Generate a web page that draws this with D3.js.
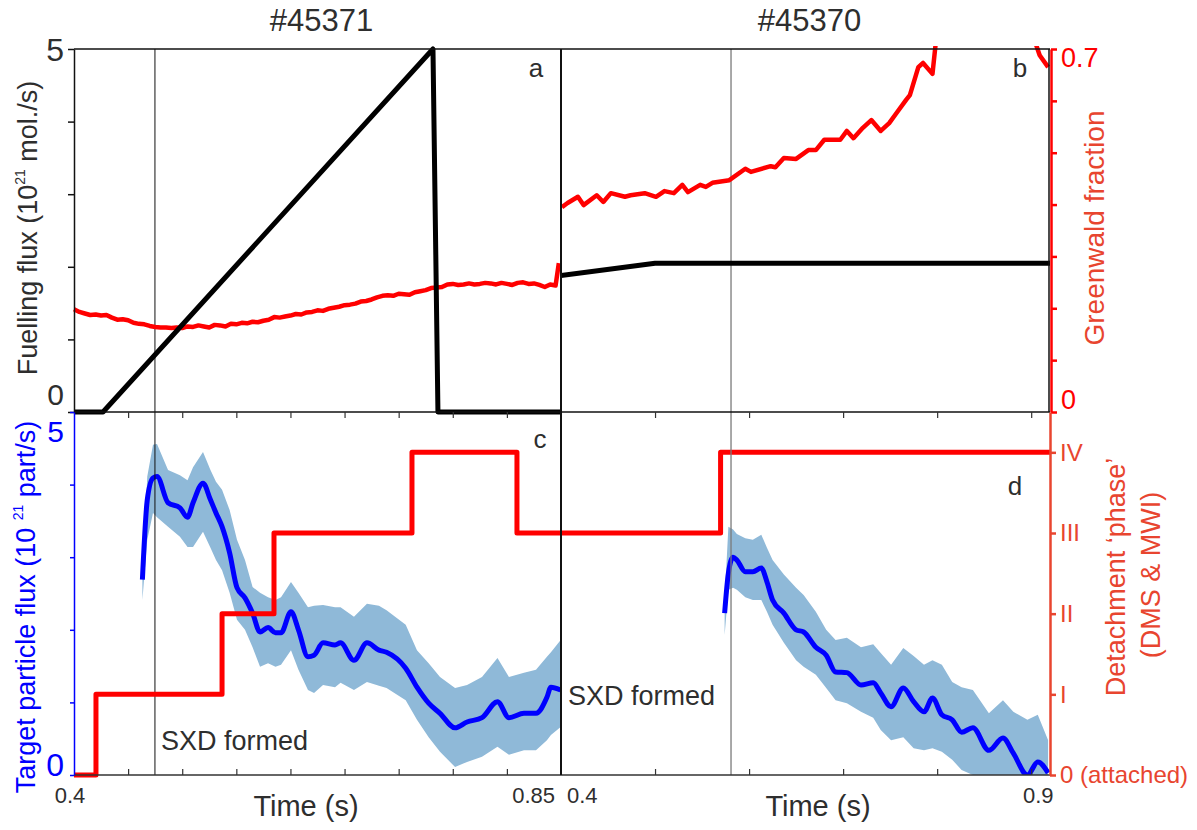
<!DOCTYPE html>
<html><head><meta charset="utf-8">
<script src="https://cdn.jsdelivr.net/npm/d3@7"></script>
<style>body{margin:0;background:#fff}svg{display:block}text{font-family:"Liberation Sans",Arial,Helvetica,sans-serif}</style>
</head><body><svg id="c" width="1197" height="830"></svg>
<script>
// ---------------- DATA ----------------
const shotTitles = ["#45371", "#45370"];
const panelLetters = ["a", "b", "c", "d"];
const phaseLabels = ["0 (attached)", "I", "II", "III", "IV"];
const sxdTimes = [0.4748, 0.5808];          // SXD formed (left shot, right shot)

// fuelling flux (1e21 mol/s)
const fuelA_t = [0.400, 0.4268, 0.7317, 0.7363, 0.850];
const fuelA_v = [0, 0, 5, 0, 0];
const fuelB_t = [0.400, 0.500, 0.920];
const fuelB_v = [1.88, 2.05, 2.05];

// Greenwald fraction
const gwA_t = [0.400,0.405,0.410,0.415,0.420,0.425,0.430,0.435,0.440,0.445,0.450,0.455,0.460,0.465,0.470,0.475,0.480,0.485,0.490,0.495,0.500,0.505,0.510,0.515,0.520,0.525,0.530,0.535,0.540,0.545,0.550,0.555,0.560,0.565,0.570,0.575,0.580,0.585,0.590,0.595,0.600,0.605,0.610,0.615,0.620,0.625,0.630,0.635,0.640,0.645,0.650,0.655,0.660,0.665,0.670,0.675,0.680,0.685,0.690,0.695,0.700,0.705,0.710,0.715,0.720,0.725,0.730,0.735,0.740,0.745,0.750,0.755,0.760,0.765,0.770,0.775,0.780,0.785,0.790,0.795,0.800,0.805,0.810,0.815,0.820,0.825,0.830,0.835,0.840,0.845,0.848];
const gwA_v = [0.198,0.193,0.190,0.187,0.188,0.186,0.187,0.182,0.178,0.179,0.177,0.172,0.170,0.169,0.166,0.164,0.163,0.163,0.162,0.163,0.162,0.165,0.164,0.167,0.165,0.163,0.168,0.167,0.165,0.170,0.169,0.172,0.171,0.174,0.173,0.176,0.178,0.183,0.182,0.184,0.186,0.189,0.188,0.192,0.193,0.196,0.195,0.199,0.201,0.203,0.206,0.207,0.209,0.213,0.214,0.217,0.221,0.224,0.225,0.224,0.228,0.227,0.226,0.231,0.233,0.235,0.239,0.240,0.241,0.246,0.247,0.245,0.246,0.248,0.246,0.247,0.249,0.248,0.246,0.249,0.247,0.245,0.249,0.250,0.247,0.248,0.245,0.241,0.246,0.244,0.287];
const gwB_t = [0.401,0.407,0.418,0.424,0.438,0.445,0.453,0.468,0.474,0.489,0.501,0.510,0.520,0.529,0.535,0.548,0.554,0.561,0.579,0.596,0.602,0.623,0.628,0.637,0.650,0.663,0.671,0.680,0.697,0.704,0.711,0.721,0.730,0.740,0.749,0.757,0.767,0.771,0.780,0.785,0.795,0.799];
const gwB_v = [0.395,0.403,0.415,0.399,0.418,0.405,0.422,0.415,0.418,0.422,0.415,0.426,0.422,0.438,0.424,0.438,0.434,0.442,0.447,0.469,0.463,0.474,0.472,0.490,0.488,0.505,0.505,0.525,0.525,0.542,0.528,0.548,0.563,0.542,0.557,0.577,0.602,0.611,0.665,0.673,0.652,0.720];
const gwB2_t = [0.903, 0.909, 0.918];
const gwB2_v = [0.720, 0.688, 0.665];

// target particle flux (1e21 part/s), mean and band
const fluxA_t = [0.4632,0.4677,0.4730,0.4767,0.4869,0.4979,0.5049,0.5100,0.5192,0.5261,0.5312,0.5368,0.5438,0.5506,0.5580,0.5650,0.5719,0.5793,0.5862,0.5913,0.6005,0.6074,0.6162,0.6218,0.6301,0.6412,0.6463,0.6587,0.6707,0.6818,0.6888,0.7065,0.7169,0.7277,0.7382,0.7521,0.7632,0.7770,0.7913,0.8019,0.8158,0.8269,0.8370,0.8407,0.8497];
const fluxA_v = [2.69,3.79,4.09,4.11,3.75,3.68,3.55,3.75,4.02,3.79,3.61,3.42,3.06,2.58,2.44,2.23,1.97,2.03,1.96,1.96,2.25,2.00,1.63,1.65,1.82,1.79,1.82,1.58,1.82,1.72,1.69,1.47,1.21,0.99,0.85,0.65,0.73,0.79,1.01,0.79,0.85,0.85,1.07,1.21,1.17];
const fluxA_hi = [2.71,4.11,4.55,4.56,4.20,4.13,4.06,4.24,4.45,4.20,4.04,3.93,3.65,3.24,2.96,2.59,2.51,2.45,2.41,2.45,2.66,2.51,2.31,2.33,2.34,2.31,2.31,2.18,2.36,2.33,2.27,2.07,1.72,1.54,1.35,1.20,1.24,1.35,1.61,1.35,1.41,1.45,1.63,1.69,1.86];
const fluxA_lo = [2.41,3.24,3.61,3.55,3.42,3.28,3.14,3.14,3.35,3.13,2.96,2.82,2.51,2.14,2.00,1.76,1.49,1.54,1.49,1.52,1.72,1.45,1.17,1.13,1.24,1.21,1.27,1.17,1.28,1.23,1.20,1.03,0.76,0.52,0.32,0.11,0.18,0.25,0.39,0.28,0.34,0.34,0.48,0.55,0.66];
const fluxB_t = [0.574,0.578,0.583,0.587,0.596,0.604,0.613,0.619,0.625,0.637,0.650,0.658,0.671,0.682,0.692,0.704,0.719,0.732,0.740,0.751,0.764,0.775,0.786,0.795,0.805,0.816,0.826,0.838,0.855,0.870,0.881,0.896,0.907,0.918];
const fluxB_v = [2.23,2.78,3.00,2.96,2.80,2.80,2.85,2.66,2.41,2.23,2.00,1.97,1.76,1.65,1.42,1.41,1.24,1.27,1.13,0.94,1.20,1.01,0.87,1.06,0.83,0.76,0.59,0.65,0.34,0.51,0.30,0.00,0.18,0.03];
const fluxB_hi = [2.41,3.42,3.38,3.32,3.26,3.24,3.31,3.13,2.96,2.76,2.58,2.48,2.25,2.00,1.86,1.89,1.76,1.80,1.68,1.52,1.75,1.64,1.52,1.58,1.52,1.28,1.21,1.17,0.85,1.03,0.87,0.76,0.83,0.48];
const fluxB_lo = [1.93,2.55,2.58,2.55,2.45,2.41,2.41,2.25,2.07,1.82,1.58,1.49,1.38,1.20,1.03,0.99,0.87,0.79,0.62,0.48,0.52,0.37,0.34,0.37,0.32,0.21,0.07,0.00,-0.21,-0.14,-0.28,-0.48,-0.41,-0.48];

// detachment phase (steps)
const phaseA_t = [0.400, 0.4203, 0.5368, 0.5848, 0.7123, 0.8093, 0.850];
const phaseA_v = [0, 1, 2, 3, 4, 3, 3];
const phaseB_t = [0.400, 0.5697, 0.920];
const phaseB_v = [3, 4, 4];

// ticks
const tTicksA = [0.45,0.50,0.55,0.60,0.65,0.70,0.75,0.80];
const tTicksB = [0.5,0.6,0.7,0.8,0.9];
const fuelTicks = [0,1,2,3,4,5];
const gwTicks = [0,0.1,0.2,0.3,0.4,0.5,0.6,0.7];
const fluxTicks = [0,1,2,3,4,5];
const phaseTicks = [0,1,2,3,4];

// ---------------- LAYOUT ----------------
const X0 = 74, XM = 561, X1 = 1050, Y0 = 49, YM = 412, Y1 = 775;
const TXT = "#2e2e2e", RED = "#ff0000", ORANGE = "#e8452f", BLUE = "#0000ff", BAND = "#8fb9d8";

const svg = d3.select("#c");
const xA = d3.scaleLinear([0.4, 0.85], [X0, XM]);
const xB = d3.scaleLinear([0.4, 0.92], [XM, X1]);
const yFuel = d3.scaleLinear([0, 5], [YM, Y0]);
const yGw = d3.scaleLinear([0, 0.7], [YM, Y0]);
const yFlux = d3.scaleLinear([0, 5], [Y1, YM]);
const yPhase = d3.scaleLinear([0, 4.5], [Y1, YM]);

const zip = (t, v) => t.map((d, i) => [d, v[i]]);
const zip3 = (t, lo, hi) => t.map((d, i) => [d, lo[i], hi[i]]);

const defs = svg.append("defs");
function clip(id, x, y, w, h) {
  defs.append("clipPath").attr("id", id).append("rect").attr("x", x).attr("y", y).attr("width", w).attr("height", h);
  return "url(#" + id + ")";
}
const cA = clip("ca", X0 - 4, Y0 - 4, XM - X0 + 4, YM - Y0 + 8);
const cB = clip("cb", XM, Y0 - 3, X1 - XM + 2, YM - Y0 + 8);
const cC = clip("cc", X0, YM, XM - X0, Y1 - YM + 4);
const cD = clip("cd", XM, YM, X1 - XM, Y1 - YM);

// ---------- bottom panels (c, d) ----------
function bandPanel(x, t, v, lo, hi, cp) {
  const g = svg.append("g").attr("clip-path", cp);
  g.append("path").datum(zip3(t, lo, hi))
    .attr("d", d3.area().x(d => x(d[0])).y0(d => yFlux(d[1])).y1(d => yFlux(d[2])).curve(d3.curveLinear))
    .attr("fill", BAND);
  return g;
}
const gC = bandPanel(xA, fluxA_t, fluxA_v, fluxA_lo, fluxA_hi, cC);
const gD = bandPanel(xB, fluxB_t, fluxB_v, fluxB_lo, fluxB_hi, cD);

// SXD formed vertical lines
svg.append("line").attr("x1", xA(sxdTimes[0])).attr("x2", xA(sxdTimes[0])).attr("y1", Y0).attr("y2", Y1)
  .attr("stroke", "#111").attr("stroke-width", 1);
svg.append("line").attr("x1", xB(sxdTimes[1])).attr("x2", xB(sxdTimes[1])).attr("y1", Y0).attr("y2", Y1)
  .attr("stroke", "#7a7a7a").attr("stroke-width", 1.3);

function drawLine(g, x, y, data, color, w, curve) {
  g.append("path").datum(data)
    .attr("d", d3.line().x(d => x(d[0])).y(d => y(d[1])).curve(curve || d3.curveLinear))
    .attr("fill", "none").attr("stroke", color).attr("stroke-width", w)
    .attr("stroke-linejoin", "round").attr("stroke-linecap", "butt");
}
drawLine(gC, xA, yFlux, zip(fluxA_t, fluxA_v), BLUE, 5, d3.curveMonotoneX);
drawLine(gD, xB, yFlux, zip(fluxB_t, fluxB_v), BLUE, 5, d3.curveMonotoneX);

const gCs = svg.append("g").attr("clip-path", clip("cc2", X0, YM, XM - X0 + 1, Y1 - YM + 4));
drawLine(gCs, xA, yPhase, zip(phaseA_t, phaseA_v), RED, 5, d3.curveStepAfter);
drawLine(gD, xB, yPhase, zip(phaseB_t, phaseB_v), RED, 5, d3.curveStepAfter);

// ---------- top panels (a, b) ----------
const gA = svg.append("g").attr("clip-path", cA);
const gB = svg.append("g").attr("clip-path", cB);
drawLine(gA, xA, yGw, zip(gwA_t, gwA_v), RED, 4.5);
drawLine(gB, xB, yGw, zip(gwB_t, gwB_v), RED, 4.5);
drawLine(gB, xB, yGw, zip(gwB2_t, gwB2_v), RED, 4.5);
drawLine(gA, xA, yFuel, zip(fuelA_t, fuelA_v), "#000", 5);
drawLine(gB, xB, yFuel, zip(fuelB_t, fuelB_v), "#000", 5);

// ---------- frame ----------
const frame = svg.append("g").attr("stroke", "#111").attr("fill", "none");
frame.append("line").attr("x1", X0).attr("x2", X1).attr("y1", Y0).attr("y2", Y0).attr("stroke-width", 1.5);
frame.append("line").attr("x1", X0).attr("x2", X1).attr("y1", YM).attr("y2", YM).attr("stroke-width", 1.5);
frame.append("line").attr("x1", X0).attr("x2", X1).attr("y1", Y1).attr("y2", Y1).attr("stroke-width", 1.5).attr("stroke", "#333");
frame.append("line").attr("x1", XM).attr("x2", XM).attr("y1", Y0).attr("y2", Y1).attr("stroke-width", 2);
frame.append("line").attr("x1", X1 - 1).attr("x2", X1 - 1).attr("y1", Y0).attr("y2", YM).attr("stroke-width", 1.5);

// ---------- axes ----------
function styleAxis(g, color, w) {
  g.selectAll("path.domain").attr("stroke", color).attr("stroke-width", w);
  g.selectAll(".tick line").attr("stroke", color).attr("stroke-width", w);
}
styleAxis(svg.append("g").attr("transform", `translate(${X0},0)`)
  .call(d3.axisLeft(yFuel).tickValues(fuelTicks).tickSize(6).tickSizeOuter(0).tickFormat("")), "#111", 1.5);
styleAxis(svg.append("g").attr("transform", `translate(${X0},0)`)
  .call(d3.axisLeft(yFlux).tickValues(fluxTicks).tickSize(4).tickSizeOuter(0).tickFormat("")), BLUE, 1.5);
styleAxis(svg.append("g").attr("transform", `translate(${X1 + 1},0)`)
  .call(d3.axisRight(yGw).tickValues(gwTicks).tickSize(6).tickSizeOuter(0).tickFormat("")), RED, 2.5);
const phAx = svg.append("g").attr("transform", `translate(${X1},0)`)
  .call(d3.axisRight(yPhase).tickValues(phaseTicks).tickSize(6).tickSizeOuter(0).tickPadding(4).tickFormat(i => phaseLabels[i]));
styleAxis(phAx, ORANGE, 2.5);
phAx.selectAll("text").attr("fill", ORANGE).attr("font-size", 24).attr("font-family", '"Liberation Sans",Arial,sans-serif');

function timeTicks(x, vals) {
  const a1 = svg.append("g").attr("transform", `translate(0,${Y1})`).call(d3.axisBottom(x).tickValues(vals).tickSize(-6).tickSizeOuter(0).tickFormat(""));
  a1.select("path.domain").remove(); styleAxis(a1, "#333", 1.2);
  const a2 = svg.append("g").attr("transform", `translate(0,${YM})`).call(d3.axisTop(x).tickValues(vals).tickSize(-6).tickSizeOuter(0).tickFormat(""));
  a2.select("path.domain").remove(); styleAxis(a2, "#333", 1.2);
}
timeTicks(xA, tTicksA);
timeTicks(xB, tTicksB);

// ---------- texts ----------
function text(x, y, s, opt) {
  opt = opt || {};
  return svg.append("text").attr("x", x).attr("y", y).text(s)
    .attr("font-size", opt.size || 24).attr("fill", opt.color || TXT)
    .attr("text-anchor", opt.anchor || "middle");
}
text((X0 + XM) / 2 + 4, 31, shotTitles[0], {size: 31});
text((XM + X1) / 2 + 4, 31, shotTitles[1], {size: 31});
text(536, 77, panelLetters[0], {size: 26});
text(1020, 77, panelLetters[1], {size: 26});
text(540, 448, panelLetters[2], {size: 26});
text(1015, 495, panelLetters[3], {size: 26});
// y tick labels
text(64, yFuel(5) + 12, "5", {size: 32, anchor: "end"});
text(64, yFuel(0) - 7, "0", {size: 30, anchor: "end"});
text(64, yFlux(5) + 30, "5", {size: 30, anchor: "end", color: BLUE});
text(64, yFlux(0) + 1, "0", {size: 32, anchor: "end", color: BLUE});
text(1061, yGw(0.7) + 18, "0.7", {size: 27, anchor: "start", color: RED});
text(1061, yGw(0) - 3, "0", {size: 27, anchor: "start", color: RED});
// time labels
text(xA(0.4) - 4, 803, "0.4", {size: 22});
text(XM - 6, 803, "0.85", {size: 22, anchor: "end"});
text(XM + 6, 803, "0.4", {size: 22, anchor: "start"});
text(xB(0.9) + 7, 803, "0.9", {size: 22});
text(306, 816, "Time (s)", {size: 29});
text(818, 816, "Time (s)", {size: 29});
text(xA(sxdTimes[0]) + 6, 750, "SXD formed", {size: 27, anchor: "start"});
text(568, 705, "SXD formed", {size: 27, anchor: "start"});

function vtext(x, y, size, color) {
  return svg.append("text").attr("transform", `translate(${x},${y}) rotate(-90)`)
    .attr("text-anchor", "middle").attr("font-size", size).attr("fill", color);
}
const fl = vtext(37, 228, 27, TXT);
fl.append("tspan").text("Fuelling flux (10");
fl.append("tspan").text("21").attr("font-size", 14).attr("dy", -12);
fl.append("tspan").text(" mol./s)").attr("dy", 12);

const tp = vtext(35, 607, 27, BLUE);
tp.append("tspan").text("Target particle flux (10 ");
tp.append("tspan").text("21").attr("font-size", 14).attr("dy", -12);
tp.append("tspan").text("  part/s)").attr("dy", 12);

vtext(1104, 228, 28, ORANGE).text("Greenwald fraction");
vtext(1125, 577, 27, ORANGE).text("Detachment \u2018phase\u2019");
vtext(1160, 575, 27, ORANGE).text("(DMS & MWI)");
</script></body></html>
